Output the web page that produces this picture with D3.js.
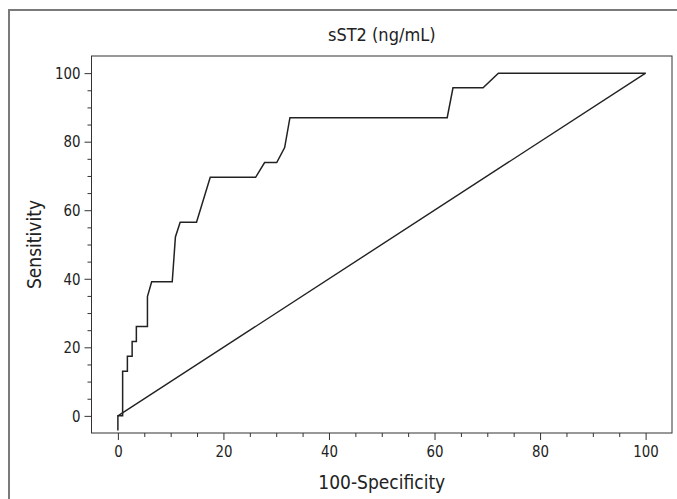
<!DOCTYPE html>
<html><head><meta charset="utf-8">
<script src="https://cdn.jsdelivr.net/npm/d3@7/dist/d3.min.js"></script>
<style>
body{margin:0;background:#fff;}
text{font-family:"Liberation Sans Narrow","DejaVu Sans Condensed","Roboto Condensed",sans-serif;fill:#222;}
</style></head>
<body>
<svg id="chart" width="677" height="499"></svg>
<script>
const title = "sST2 (ng/mL)";
const xLabel = "100-Specificity";
const yLabel = "Sensitivity";
const tickValues = [0, 20, 40, 60, 80, 100];
// ROC curve points: 100-specificity, sensitivity
const rocX = [0, 0, 0.6, 0.6, 0.9, 0.9, 1.8, 1.8, 2.7, 2.7, 3.5, 3.5, 5.6, 5.6, 6.4, 10.3, 10.9, 11.8, 14.9, 17.5, 26.1, 27.8, 30.1, 31.6, 32.6, 62.4, 63.5, 69.2, 72.1, 100];
const rocY = [-4.3, 0, 0, 0, 0, 13.0, 13.0, 17.4, 17.4, 21.7, 21.7, 26.1, 26.1, 34.8, 39.1, 39.1, 52.2, 56.5, 56.5, 69.6, 69.6, 73.9, 73.9, 78.3, 87.0, 87.0, 95.7, 95.7, 100, 100];
const refX = [0, 100];
const refY = [0, 100];

const svg = d3.select("#chart");
const L = 91.5, R = 672, T = 56, B = 433;
const x = d3.scaleLinear().domain([-5, 105]).range([L, R]);
const y = d3.scaleLinear().domain([-5, 105]).range([B, T]);

// outer frame
svg.append("path").attr("d", `M9,499 L9,10 L677,10`).attr("fill", "none")
  .attr("stroke", "#7a7a7a").attr("stroke-width", 2);

// plot box
svg.append("rect").attr("x", L).attr("y", T).attr("width", R - L).attr("height", B - T)
  .attr("fill", "none").attr("stroke", "#333").attr("stroke-width", 1);

const minor = d3.range(0, 101, 5).filter(v => v % 20 !== 0);
const sx = 0.9;

const xAxis = svg.append("g").attr("transform", `translate(0,${B})`)
  .call(d3.axisBottom(x).tickValues(tickValues).tickSize(7).tickPadding(5).tickFormat(d3.format("d")));
const xMinor = svg.append("g").attr("transform", `translate(0,${B})`)
  .call(d3.axisBottom(x).tickValues(minor).tickSize(4).tickFormat(""));
const yAxis = svg.append("g").attr("transform", `translate(${L},0)`)
  .call(d3.axisLeft(y).tickValues(tickValues).tickSize(7).tickPadding(4).tickFormat(d3.format("d")));
const yMinor = svg.append("g").attr("transform", `translate(${L},0)`)
  .call(d3.axisLeft(y).tickValues(minor).tickSize(4).tickFormat(""));
[xAxis, xMinor, yAxis, yMinor].forEach(g => {
  g.select(".domain").remove();
  g.selectAll("line").attr("stroke", "#333");
  g.selectAll("text").attr("font-size", 16.5).attr("fill", "#222")
    .attr("font-family", '"Liberation Sans Narrow","DejaVu Sans Condensed",sans-serif');
});
yAxis.selectAll("text").attr("x", -11 / sx).attr("transform", `scale(${sx},1)`);
xAxis.selectAll("text").attr("transform", `scale(${sx},1)`);

const line = d3.line().x(d => x(d[0])).y(d => y(d[1]));
svg.append("path").datum(refX.map((v, i) => [v, refY[i]])).attr("d", line)
  .attr("fill", "none").attr("stroke", "#222").attr("stroke-width", 1.4);
svg.append("path").datum(rocX.map((v, i) => [v, rocY[i]])).attr("d", line)
  .attr("fill", "none").attr("stroke", "#222").attr("stroke-width", 1.5);

svg.append("text").attr("x", (L + R) / 2).attr("y", 41).attr("text-anchor", "middle")
  .attr("font-size", 18).text(title);
svg.append("text").attr("x", (L + R) / 2).attr("y", 489).attr("text-anchor", "middle")
  .attr("font-size", 19).text(xLabel);
svg.append("text").attr("transform", `translate(41,${(T + B) / 2}) rotate(-90)`)
  .attr("text-anchor", "middle").attr("font-size", 19).text(yLabel);
</script>
</body></html>
